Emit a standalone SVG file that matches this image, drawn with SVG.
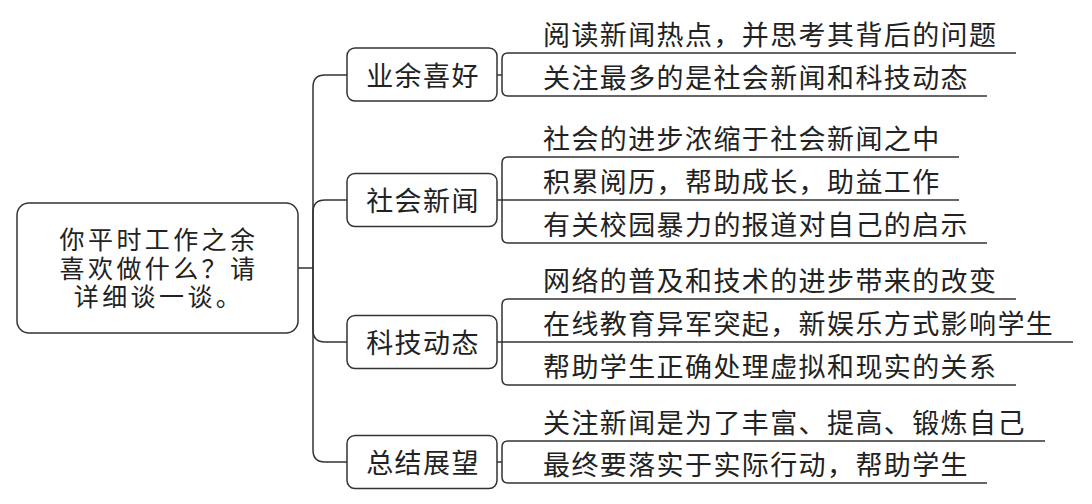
<svg xmlns="http://www.w3.org/2000/svg" width="1092" height="504" viewBox="0 0 1092 504">
<style>
.box{fill:#fff;stroke:#333;stroke-width:1.5}
.ln{fill:none;stroke:#333;stroke-width:1.5}
text{font-family:"Noto Sans CJK SC","Noto Sans",sans-serif;font-size:27px;letter-spacing:1.4px;fill:#222;dominant-baseline:central}
.c{text-anchor:middle}
.r{font-family:"Liberation Sans","Noto Sans CJK SC",sans-serif;font-size:25px;letter-spacing:3.4px}
</style>
<rect width="1092" height="504" fill="#fff"/>
<g id="connectors">
<path class="ln" d="M298 268H313V87Q313 75 325 75H347"/>
<path class="ln" d="M313 268V212Q313 200 325 200H347"/>
<path class="ln" d="M313 268V330Q313 342 325 342H347"/>
<path class="ln" d="M313 268V450Q313 462 325 462H347"/>
<path class="ln" d="M1016 53H508Q502 53 502 59V90Q502 96 508 96H987"/>
<path class="ln" d="M497 75H502"/>
<path class="ln" d="M959 157H508Q502 157 502 163V237Q502 243 508 243H987"/>
<path class="ln" d="M497 200H959"/>
<path class="ln" d="M1016 299H508Q502 299 502 305V379Q502 385 508 385H1016"/>
<path class="ln" d="M497 342H1073"/>
<path class="ln" d="M1045 441H508Q502 441 502 447V477Q502 483 508 483H987"/>
<path class="ln" d="M497 462H502"/>
</g>
<g id="root">
<rect class="box" x="17" y="203" width="281" height="130" rx="12"/>
<text class="c r"><tspan x="159" y="240">你平时工作之余</tspan><tspan x="159" y="269">喜欢做什么？请</tspan><tspan x="159" y="297">详细谈一谈。</tspan></text>
</g>
<g id="b1">
<rect class="box" x="347" y="48" width="150" height="53" rx="8"/>
<text class="c" x="423" y="74">业余喜好</text>
</g>
<g id="b2">
<rect class="box" x="347" y="173.5" width="150" height="53" rx="8"/>
<text class="c" x="423" y="199.5">社会新闻</text>
</g>
<g id="b3">
<rect class="box" x="347" y="315.5" width="150" height="53" rx="8"/>
<text class="c" x="423" y="341.5">科技动态</text>
</g>
<g id="b4">
<rect class="box" x="347" y="435.5" width="150" height="53" rx="8"/>
<text class="c" x="423" y="461.5">总结展望</text>
</g>
<g id="leaf1-1"><text x="543" y="33">阅读新闻热点，并思考其背后的问题</text></g>
<g id="leaf1-2"><text x="543" y="76">关注最多的是社会新闻和科技动态</text></g>
<g id="leaf2-1"><text x="543" y="137">社会的进步浓缩于社会新闻之中</text></g>
<g id="leaf2-2"><text x="543" y="180">积累阅历，帮助成长，助益工作</text></g>
<g id="leaf2-3"><text x="543" y="223">有关校园暴力的报道对自己的启示</text></g>
<g id="leaf3-1"><text x="543" y="279">网络的普及和技术的进步带来的改变</text></g>
<g id="leaf3-2"><text x="543" y="322">在线教育异军突起，新娱乐方式影响学生</text></g>
<g id="leaf3-3"><text x="543" y="365">帮助学生正确处理虚拟和现实的关系</text></g>
<g id="leaf4-1"><text x="543" y="421">关注新闻是为了丰富、提高、锻炼自己</text></g>
<g id="leaf4-2"><text x="543" y="463">最终要落实于实际行动，帮助学生</text></g>
</svg>
